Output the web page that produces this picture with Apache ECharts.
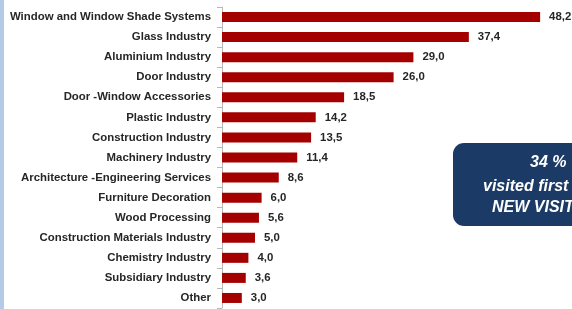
<!DOCTYPE html>
<html>
<head>
<meta charset="utf-8">
<script src="https://cdn.jsdelivr.net/npm/echarts@6/dist/echarts.min.js"></script>
<style>
html, body { margin: 0; padding: 0; background: #fff; }
#chart { width: 572px; height: 309px; }
</style>
</head>
<body>
<div id="chart"></div>
<script>
var categories = [
	'Window and Window Shade Systems',
	'Glass Industry',
	'Aluminium Industry',
	'Door Industry',
	'Door -Window Accessories',
	'Plastic Industry',
	'Construction Industry',
	'Machinery Industry',
	'Architecture -Engineering Services',
	'Furniture Decoration',
	'Wood Processing',
	'Construction Materials Industry',
	'Chemistry Industry',
	'Subsidiary Industry',
	'Other'
];
var values = [48.2, 37.4, 29.0, 26.0, 18.5, 14.2, 13.5, 11.4, 8.6, 6.0, 5.6, 5.0, 4.0, 3.6, 3.0];
var boxLines = ['34 %', 'visited first time', 'NEW VISITORS'];

var myChart = echarts.init(document.getElementById('chart'));
var boxFont = 'italic bold 16px "Liberation Sans"';
var option = {
	animation: false,
	grid: { left: 222, top: 7, right: 20, bottom: 1 },
	xAxis: { type: 'value', min: 0, max: 50, show: false },
	yAxis: {
		type: 'category',
		inverse: true,
		data: categories,
		axisLine: { lineStyle: { color: '#b8b8b8' } },
		axisTick: { show: true, length: 5, lineStyle: { color: '#b8b8b8' } },
		axisLabel: {
			margin: 11,
			color: '#262626',
			fontFamily: 'Liberation Sans',
			fontWeight: 'bold',
			fontSize: 11.4
		}
	},
	series: [{
		type: 'bar',
		data: values,
		barWidth: 10,
		itemStyle: { color: '#a50000' },
		label: {
			show: true,
			position: 'right',
			distance: 9,
			color: '#262626',
			fontFamily: 'Liberation Sans',
			fontWeight: 'bold',
			fontSize: 11.4,
			formatter: function (p) { return p.value.toFixed(1).replace('.', ','); }
		}
	}],
	graphic: [
		{ type: 'rect', left: 0, top: 0, shape: { width: 4, height: 309 }, style: { fill: '#b3cbe6' } },
		{ type: 'rect', left: 453, top: 143, shape: { width: 140, height: 83, r: 11 }, style: { fill: '#1b3a66' } },
		{ type: 'text', left: 530, top: 155, style: { text: boxLines[0], fill: '#fff', font: boxFont } },
		{ type: 'text', left: 483, top: 179, style: { text: boxLines[1], fill: '#fff', font: boxFont } },
		{ type: 'text', left: 492, top: 200, style: { text: boxLines[2], fill: '#fff', font: boxFont } }
	]
};
option && myChart.setOption(option);
</script>
</body>
</html>
